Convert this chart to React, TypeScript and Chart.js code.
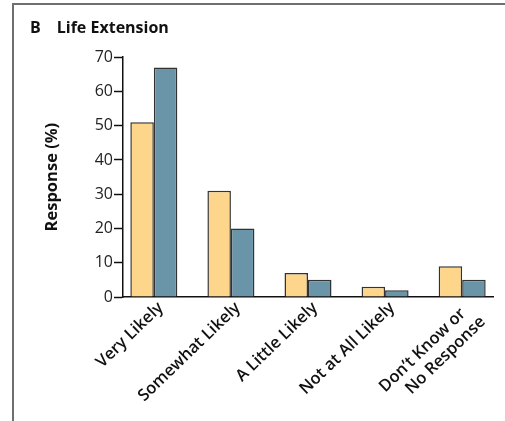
import React, { useEffect, useRef } from "react";
import { Chart, registerables } from "chart.js";

Chart.register(...registerables);

const categories: (string | string[])[] = [
  "Very Likely",
  "Somewhat Likely",
  "A Little Likely",
  "Not at All Likely",
  ["Don\u2019t Know or\u00A0\u00A0", "No Response"],
];
const seriesA = [51, 31, 7, 3, 9];
const seriesB = [67, 20, 5, 2, 5];
const yTicks = [0, 10, 20, 30, 40, 50, 60, 70];

const FONT = "'Open Sans', 'Noto Sans', sans-serif";

export default function App() {
  const ref = useRef<HTMLCanvasElement | null>(null);
  useEffect(() => {
    if (!ref.current) return;
    const toPts = (arr: number[]) => arr.map((v, i) => ({ x: i, y: v }));
    const chart = new Chart(ref.current, {
      type: "bar",
      data: {
        datasets: [
          {
            label: "A",
            data: toPts(seriesA) as any,
            backgroundColor: "#FDD68C",
            borderColor: "#333333",
            borderWidth: 1.5,
            barPercentage: 1,
            categoryPercentage: 0.61,
          },
          {
            label: "B",
            data: toPts(seriesB) as any,
            backgroundColor: "#6A95A8",
            borderColor: "#333333",
            borderWidth: 1.5,
            barPercentage: 1,
            categoryPercentage: 0.61,
          },
        ],
      },
      options: {
        responsive: false,
        animation: false,
        layout: { padding: { left: 30, right: 12, top: 0, bottom: 0 } },
        plugins: {
          legend: { display: false },
          tooltip: { enabled: false },
          title: {
            display: true,
            text: "B\u2003Life Extension",
            align: "start",
            color: "#111",
            font: { family: FONT, size: 16, weight: "bold" },
            padding: { top: 19, bottom: 19 },
          },
        },
        scales: {
          x: {
            type: "linear",
            offset: false,
            min: -0.4,
            max: 4.4,
            afterFit: (s: any) => {
              s.height = 124;
            },
            afterBuildTicks: (s: any) => {
              s.ticks = categories.map((_, i) => ({ value: i }));
            },
            grid: { display: true, drawOnChartArea: false, drawTicks: false },
            border: { display: true, color: "#111", width: 1.5 },
            ticks: {
              autoSkip: false,
              maxRotation: 44,
              minRotation: 44,
              padding: 1,
              labelOffset: 7,
              color: "#111",
              font: { family: FONT, size: 16.5, weight: 600 },
              callback: (v: any) => {
                const i = Math.round(Number(v));
                return categories[i] ?? "";
              },
            },
          },
          y: {
            min: 0,
            max: 70,
            afterFit: (s: any) => {
              s.width = 93;
            },
            afterBuildTicks: (s: any) => {
              s.ticks = yTicks.map((v) => ({ value: v }));
            },
            grid: {
              display: true,
              drawOnChartArea: false,
              drawTicks: true,
              tickLength: 9,
              tickColor: "#111",
              tickWidth: 1.5,
            },
            border: { display: true, color: "#111", width: 1.5 },
            ticks: {
              padding: 1,
              color: "#222",
              font: { family: FONT, size: 16 },
            },
            title: {
              display: true,
              text: "Response (%)",
              color: "#111",
              font: { family: FONT, size: 16.5, weight: "bold" },
              padding: { top: 12, bottom: 0 },
            },
          },
        },
      } as any,
    });
    return () => chart.destroy();
  }, []);

  return (
    <div style={{ position: "fixed", left: 0, top: 0, width: 505, height: 421, background: "#fff" }}>
      <canvas ref={ref} width={505} height={421} style={{ position: "absolute", left: 0, top: 0 }} />
      <div
        style={{
          position: "absolute",
          left: 12,
          top: 3,
          width: 493,
          height: 418,
          borderLeft: "2px solid #6f6f6f",
          borderTop: "2px solid #6f6f6f",
          pointerEvents: "none",
        }}
      />
    </div>
  );
}
